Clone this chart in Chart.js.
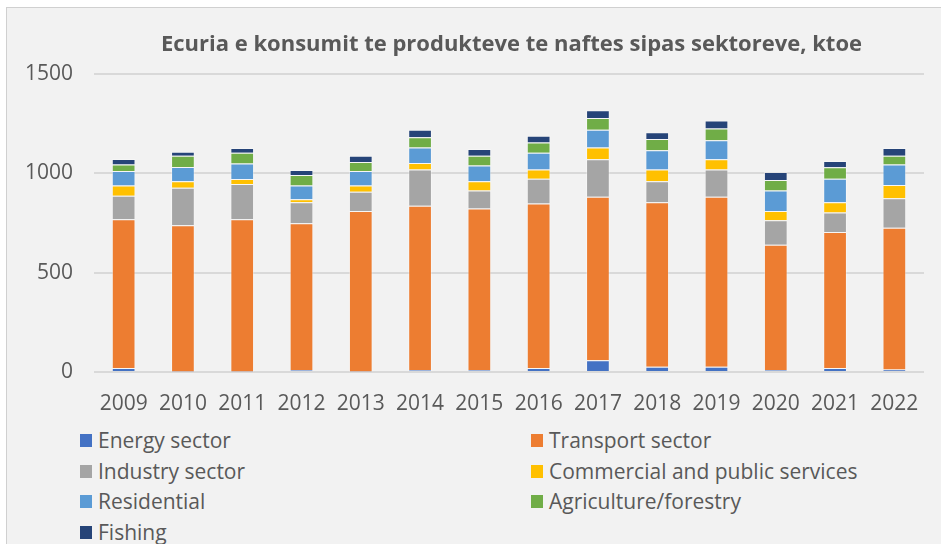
<!DOCTYPE html>
<html>
<head>
<meta charset="utf-8">
<script src="https://cdn.jsdelivr.net/npm/chart.js@4.4.1/dist/chart.umd.min.js"></script>
<style>
    html, body { margin: 0; padding: 0; width: 941px; height: 544px; overflow: hidden; background: #ffffff; }
    #frame { position: absolute; left: 6px; top: 7px; width: 960px; height: 560px; background: #f2f2f2; border: 1px solid #d0d0d0; }
    #chart { position: absolute; left: 0; top: 0; }
    #title { position: absolute; left: 0; width: 1023px; top: 27px; text-align: center; font: bold 22px "Open Sans", sans-serif; color: #595959; white-space: nowrap; }
    #legend { position: absolute; left: 0; top: 425px; width: 941px; font: 21px "Open Sans", sans-serif; color: #595959; }
    .item { position: absolute; height: 30px; line-height: 30px; white-space: nowrap; }
    .box { position: absolute; left: 0; top: 9px; width: 12px; height: 13px; }
    .txt { position: absolute; left: 18px; top: 0; }
</style>
</head>
<body>
<div id="frame"></div>
<canvas id="chart" width="941" height="420"></canvas>
<div id="title">Ecuria e konsumit te produkteve te naftes sipas sektoreve, ktoe</div>
<div id="legend"></div>
<script>
const years = ['2009', '2010', '2011', '2012', '2013', '2014', '2015', '2016', '2017', '2018', '2019', '2020', '2021', '2022'];

const energy      = [20, 3, 3, 10, 3, 10, 10, 20, 59, 27, 27, 10, 20, 13];
const transport   = [749, 736, 766, 739, 807, 827, 813, 828, 823, 828, 855, 630, 685, 713];
const industry    = [118, 189, 177, 105, 97, 182, 91, 125, 189, 105, 137, 124, 98, 148];
const commercial  = [52, 32, 25, 15, 32, 33, 46, 46, 59, 59, 52, 46, 52, 67];
const residential = [73, 72, 79, 70, 73, 78, 79, 84, 90, 97, 96, 104, 118, 103];
const agriculture = [32, 57, 53, 53, 45, 52, 50, 52, 58, 57, 59, 52, 57, 45];
const fishing     = [28, 20, 25, 25, 32, 38, 34, 34, 40, 34, 40, 41, 32, 39];

const yTicks = [0, 500, 1000, 1500];

const series = [
    { label: 'Energy sector', data: energy, color: '#4472c4' },
    { label: 'Transport sector', data: transport, color: '#ed7d31' },
    { label: 'Industry sector', data: industry, color: '#a5a5a5' },
    { label: 'Commercial and public services', data: commercial, color: '#ffc000' },
    { label: 'Residential', data: residential, color: '#5b9bd5' },
    { label: 'Agriculture/forestry', data: agriculture, color: '#70ad47' },
    { label: 'Fishing', data: fishing, color: '#264478' }
];

const font = '"Open Sans", sans-serif';

const ctx = document.getElementById('chart').getContext('2d');
const chart = new Chart(ctx, {
    type: 'bar',
    data: {
        labels: years,
        datasets: series.map(s => ({
            label: s.label,
            data: s.data,
            backgroundColor: s.color,
            borderColor: 'rgba(255, 255, 255, 0.35)',
            borderWidth: 1,
            categoryPercentage: 0.8,
            barPercentage: 0.5
        }))
    },
    options: {
        responsive: false,
        animation: false,
        devicePixelRatio: 1,
        layout: { padding: { top: 74, right: 17, left: 0, bottom: 0 } },
        plugins: {
            legend: { display: false },
            title: { display: false },
            tooltip: { enabled: false }
        },
        scales: {
            x: {
                stacked: true,
                grid: { display: false, drawTicks: false },
                border: { display: false },
                ticks: { color: '#595959', font: { family: font, size: 21 }, padding: 19 },
                afterFit: scale => { scale.height = 48; }
            },
            y: {
                stacked: true,
                min: 0,
                max: 1500,
                afterBuildTicks: scale => { scale.ticks = yTicks.map(v => ({ value: v })); },
                grid: { color: '#d9d9d9', lineWidth: 2, drawTicks: false },
                border: { display: false },
                ticks: {
                    color: '#595959',
                    font: { family: font, size: 21 },
                    padding: 21,
                    callback: value => String(value)
                },
                afterFit: scale => { scale.width = 94; }
            }
        }
    }
});

// legend in two columns, built from the chart datasets
const legend = document.getElementById('legend');
chart.data.datasets.forEach((ds, i) => {
    const item = document.createElement('div');
    item.className = 'item';
    item.style.left = (i % 2 === 0 ? 80 : 531) + 'px';
    item.style.top = (Math.floor(i / 2) * 30.5) + 'px';
    item.innerHTML = `<span class="box" style="background:${ds.backgroundColor}"></span><span class="txt">${ds.label}</span>`;
    legend.appendChild(item);
});
</script>
</body>
</html>
